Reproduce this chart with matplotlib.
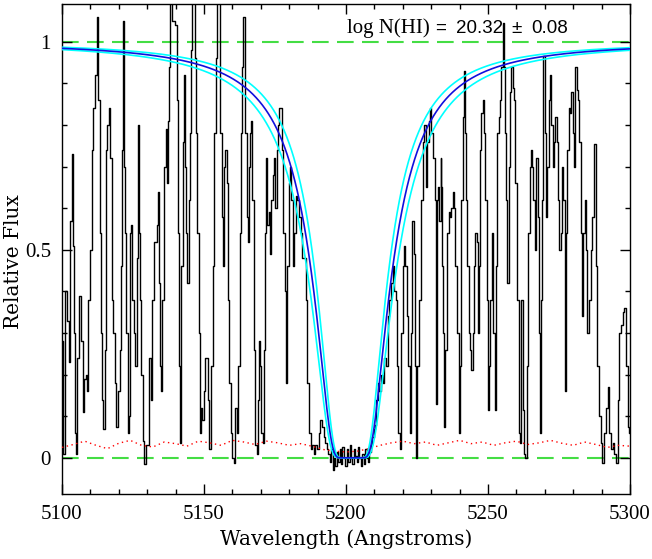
import numpy as np
import matplotlib
matplotlib.use("Agg")
import matplotlib.pyplot as plt
from matplotlib.ticker import MultipleLocator

# ---------------- data ----------------
wave = [
    5100.0, 5100.47, 5101.64, 5102.23, 5102.58, 5103.17, 5103.64, 5104.0, 5104.34, 5104.93,
    5105.16, 5105.75, 5106.34, 5106.93, 5107.51, 5108.1, 5108.69, 5108.92, 5109.62, 5110.1,
    5110.68, 5111.27, 5111.86, 5112.44, 5113.15, 5113.62, 5113.97, 5114.32, 5114.79, 5115.14,
    5115.73, 5116.2, 5116.67, 5117.25, 5117.61, 5117.84, 5118.31, 5118.9, 5119.48, 5119.95,
    5120.66, 5120.89, 5121.13, 5121.6, 5121.95, 5122.3, 5122.77, 5123.36, 5123.71, 5124.18,
    5124.53, 5125.0, 5125.5, 5126.06, 5126.53, 5127.0, 5127.35, 5127.7, 5128.2, 5128.64,
    5129.23, 5130.05, 5130.99, 5131.57, 5132.0,
    5132.98, 5133.57, 5133.92, 5134.39, 5134.74, 5134.98, 5135.68, 5136.27, 5136.62, 5137.09,
    5137.44, 5137.79, 5138.03, 5139.44, 5140.14, 5140.61, 5140.96, 5141.31, 5141.78, 5142.37,
    5142.72, 5143.19, 5143.54, 5143.9, 5144.37, 5144.84, 5145.31, 5145.77, 5146.13, 5146.6,
    5146.83, 5147.42, 5147.89, 5148.36, 5148.71, 5149.18, 5149.65, 5150.23, 5150.7, 5151.17,
    5151.76, 5152.11, 5152.93, 5153.52, 5153.87, 5154.23, 5154.58, 5155.05, 5155.87, 5156.46,
    5156.81, 5157.28, 5157.75, 5158.1, 5158.45, 5159.15, 5159.62, 5160.33, 5160.8, 5161.27,
    5161.74, 5162.32, 5162.91, 5163.26, 5163.62, 5164.09, 5164.67, 5165.26, 5165.85,
    5166.08, 5166.55, 5166.9, 5167.25, 5167.61, 5167.84, 5168.31, 5168.78, 5169.25, 5169.6,
    5169.95, 5170.42, 5170.78, 5171.13, 5171.6, 5171.95, 5172.54, 5173.01, 5173.48, 5173.94,
    5174.41, 5174.88, 5175.35, 5175.82, 5176.29, 5176.76, 5177.23, 5177.7, 5178.17, 5178.64,
    5179.11, 5179.58, 5180.05, 5180.52, 5180.99, 5181.46, 5181.93, 5182.51, 5183.1, 5183.69,
    5184.27, 5184.86, 5185.45, 5186.03, 5186.62, 5187.21, 5187.79, 5188.38, 5188.97, 5189.55,
    5190.14, 5190.73, 5191.31, 5191.9, 5192.49, 5193.07,
    5193.5, 5194.0, 5194.5, 5195.0, 5195.5, 5196.0, 5196.5, 5197.0, 5197.5, 5198.0,
    5198.5, 5199.0, 5199.5, 5200.0, 5200.5, 5201.0, 5201.5, 5202.0, 5202.5, 5203.0,
    5203.5, 5204.0, 5204.5, 5205.0, 5205.5, 5206.0, 5206.5, 5207.0, 5207.5, 5208.0,
    5208.5, 5209.0, 5209.5, 5210.0,
    5210.33, 5210.92, 5211.5, 5212.09, 5212.68, 5213.26, 5213.85, 5214.44, 5215.02, 5215.61,
    5216.2, 5216.78, 5217.37, 5217.72, 5218.08, 5218.55, 5219.13, 5219.72, 5220.31, 5220.66,
    5221.13, 5221.6, 5222.07, 5222.65, 5223.24, 5223.59, 5223.95, 5224.41, 5224.88, 5225.35,
    5226.17, 5226.76, 5227.35, 5227.93, 5228.4, 5228.87, 5229.34, 5229.81, 5230.28, 5230.87,
    5231.46, 5231.7, 5231.85, 5232.0,
    5232.28, 5232.63, 5233.1, 5233.45, 5233.8, 5234.04, 5234.27, 5234.62, 5235.21, 5235.8,
    5236.39, 5236.97, 5237.32, 5237.79, 5238.15, 5238.73, 5239.32, 5239.91, 5240.38, 5240.85,
    5241.31, 5241.67, 5242.02, 5242.49, 5242.96, 5243.43, 5243.9, 5244.37, 5244.84, 5245.31,
    5245.77, 5246.24, 5246.71, 5247.07, 5247.42, 5247.89, 5248.36, 5248.83, 5249.3, 5249.77,
    5250.12, 5250.47, 5251.06, 5251.64, 5252.23, 5252.58, 5253.05, 5253.52, 5253.99, 5254.46,
    5254.93, 5255.4, 5255.75, 5256.1, 5256.57, 5257.04, 5257.51, 5257.98, 5258.45, 5258.92,
    5259.39, 5259.86, 5260.45, 5261.03, 5261.62, 5261.97, 5262.44, 5262.91, 5263.38, 5263.97,
    5264.55, 5265.02,
    5265.38, 5265.73, 5266.2, 5266.67, 5267.14, 5267.72, 5268.08, 5268.43, 5268.9, 5269.25,
    5269.72, 5270.19, 5270.66, 5271.13, 5271.6, 5272.07, 5272.54, 5273.01, 5273.48, 5273.94,
    5274.41, 5274.88, 5275.35, 5275.82, 5276.29, 5276.76, 5277.23, 5277.7, 5278.17, 5278.64,
    5279.11, 5279.58, 5280.05, 5280.52, 5280.99, 5281.46, 5281.93, 5282.4, 5282.87, 5283.34,
    5283.8, 5284.27, 5284.74, 5285.21, 5285.92, 5286.5, 5287.09, 5287.68, 5288.26, 5288.85,
    5289.44, 5290.02, 5290.61, 5291.2, 5291.79, 5292.37, 5292.96, 5293.55, 5294.13, 5294.72,
    5295.31, 5295.9, 5296.48, 5297.07, 5297.66, 5298.24, 5298.83, 5299.42, 5300.0,
]
flux = [
    0.28, 0.01, 0.40, 0.33, 0.23, 0.57, 0.73, 0.51, 0.30, 0.06,
    0.01, 0.24, 0.39, 0.28, 0.11, 0.19, 0.20, 0.16, 0.38, 0.50,
    0.74, 0.84, 0.92, 1.06, 0.86, 0.54, 0.30, 0.14, 0.07, 0.26,
    0.74, 0.80, 0.84, 0.72, 0.54, 0.38, 0.30, 0.18, 0.075, 0.16,
    0.26, 0.46, 0.74, 1.05, 0.70, 0.54, 0.30, 0.06, 0.10, 0.54,
    0.56, 0.38, 0.30, 0.22, 0.48, 0.80, 0.54, 0.38, 0.20, 0.04,
    -0.015, 0.03, 0.24, 0.14, 0.38,
    0.52, 0.56, 0.64, 0.42, 0.22, 0.16, 0.38, 0.70, 0.79, 0.66,
    0.81, 0.94, 1.12, 1.05, 1.04, 0.86, 0.54, 0.22, 0.035, 0.46,
    0.76, 0.92, 0.70, 0.54, 0.42, 0.62, 0.78, 0.98, 1.12, 1.12,
    0.96, 0.78, 0.54, 0.30, 0.06, 0.12, 0.09, 0.16, 0.24, 0.24,
    0.14, 0.02, 0.22, 0.46, 0.78, 0.96, 1.12, 1.12, 0.78, 0.58,
    0.46, 0.70, 0.74, 0.66, 0.38, 0.18, 0.06, 0.0, -0.013, 0.12,
    0.06, 0.22, 0.54, 0.78, 0.94, 1.06, 0.78, 0.58, 0.52,
    0.70, 0.78, 0.81, 0.62, 0.46, 0.26, 0.03, 0.01, 0.14, 0.28,
    0.22, 0.06, 0.035, 0.26, 0.54, 0.72, 0.56, 0.59, 0.49, 0.62,
    0.68, 0.72, 0.60, 0.74, 0.80, 0.84, 0.84, 0.74, 0.54, 0.40,
    0.18, 0.46, 0.66, 0.70, 0.62, 0.46, 0.54, 0.63, 0.62, 0.58,
    0.54, 0.48, 0.48, 0.38, 0.18, 0.06, 0.02, 0.03, 0.01, 0.03,
    0.02, 0.06, 0.09, 0.075, 0.05, 0.035,
    0.02, 0.01, -0.01, 0.02, -0.03, 0.0, -0.02, 0.015, -0.01, 0.02,
    -0.015, 0.025, 0.0, -0.02, 0.02, -0.01, 0.03, 0.0, -0.015, 0.02,
    0.005, -0.01, 0.025, 0.0, -0.02, 0.01, -0.015, 0.02, 0.0, -0.01,
    0.015, 0.03, 0.05, 0.07,
    0.08, 0.14, 0.18, 0.16, 0.20, 0.18, 0.24, 0.22, 0.34, 0.38,
    0.42, 0.46, 0.40, 0.38, 0.22, 0.06, 0.02, 0.30, 0.46, 0.51,
    0.46, 0.34, 0.22, 0.06, 0.30, 0.57, 0.49, 0.22, 0.0, 0.22,
    0.38, 0.62, 0.76, 0.80, 0.65, 0.76, 0.81, 0.84, 0.78, 0.72,
    0.62, 0.30, 0.13, 0.30,
    0.62, 0.65, 0.57, 0.72, 0.65, 0.46, 0.30, 0.075, 0.26, 0.54,
    0.59, 0.58, 0.60, 0.64, 0.60, 0.46, 0.30, 0.06, 0.22, 0.62,
    0.82, 0.93, 0.78, 0.62, 0.46, 0.30, 0.26, 0.21, 0.30, 0.46,
    0.54, 0.52, 0.30, 0.46, 0.74, 0.83, 0.86, 0.78, 0.62, 0.38,
    0.115, 0.22, 0.38, 0.54, 0.30, 0.115, 0.46, 0.78, 0.82, 0.86,
    0.94, 1.045, 0.94, 0.78, 0.62, 0.42, 0.70, 0.88, 0.94, 0.89,
    0.86, 0.66, 0.38, 0.06, 0.035, 0.38, 0.115, 0.01, 0.0, 0.22,
    0.54, 0.70,
    0.74, 0.70, 0.62, 0.50, 0.72, 0.58, 0.30, 0.06, 0.38, 0.62,
    0.965, 0.78, 0.58, 0.70, 0.86, 0.92, 0.80, 0.70, 0.76, 0.82,
    0.76, 0.62, 0.50, 0.54, 0.70, 0.62, 0.16, 0.54, 0.74, 0.84,
    0.83, 0.88, 0.78, 0.70, 0.94, 0.885, 0.86, 0.76, 0.54, 0.34,
    0.54, 0.62, 0.50, 0.30, 0.38, 0.50, 0.58, 0.755, 0.46, 0.22,
    0.10, 0.035, -0.013, 0.06, 0.12, 0.17, 0.06, 0.02, 0.035, 0.01,
    -0.013, 0.14, 0.30, 0.32, 0.35, 0.36, 0.22, 0.075, 0.06,
]

err_wave = list(range(5100, 5301, 4))
err = [
    0.025, 0.032, 0.040, 0.030, 0.022, 0.035, 0.042, 0.030, 0.026, 0.038,
    0.034, 0.028, 0.040, 0.036, 0.030, 0.042, 0.038, 0.032, 0.040, 0.036,
    0.030, 0.034, 0.028, 0.020, 0.016, 0.014, 0.016, 0.022, 0.030, 0.036,
    0.040, 0.034, 0.038, 0.030, 0.036, 0.042, 0.034, 0.038, 0.030, 0.036,
    0.040, 0.032, 0.036, 0.042, 0.035, 0.030, 0.038, 0.032, 0.025, 0.030,
    0.028,
]

# DLA fit parameters (from the label)
logN = 20.32
logN_err = 0.08
lam_center = 5202.0        # observed Ly-alpha centre
label_main = "log N(HI)"
label_parts = ["=", "20.32", "\u00b1", "0.08"]

# ---------------- model: Lorentzian-damped Ly-alpha ----------------
lam0 = 1215.67
c_A = 2.998e18
f_osc = 0.4164
gamma = 6.265e8
zp1 = lam_center / lam0


def dla_profile(lam, logn):
    dl_rest = (lam - lam_center) / zp1
    dnu = c_A * dl_rest / lam0 ** 2
    sig = 0.02654 * f_osc * (gamma / (4 * np.pi ** 2)) / (dnu ** 2 + (gamma / (4 * np.pi)) ** 2)
    return np.exp(-(10 ** logn) * sig)


lam_model = np.linspace(5100, 5300, 2001)

# ---------------- figure ----------------
fig = plt.figure(figsize=(6.52, 5.59), dpi=100)
ax = fig.add_axes([62 / 652, (559 - 494) / 559, 568 / 652, 490 / 559])

green = "#44dd44"
ax.axhline(1.0, color=green, lw=1.5, dashes=(8, 4), zorder=1)
ax.axhline(0.0, color=green, lw=1.5, dashes=(8, 4), zorder=1)

ax.plot(wave, flux, drawstyle="steps-mid", color="black", lw=1.0, zorder=2)
ax.plot(err_wave, err, color="red", lw=1.0, ls=(0, (1, 2.5)), zorder=3)

ax.plot(lam_model, dla_profile(lam_model, logN + logN_err), color="#00ffff", lw=1.2, zorder=4)
ax.plot(lam_model, dla_profile(lam_model, logN - logN_err), color="#00ffff", lw=1.2, zorder=4)
ax.plot(lam_model, dla_profile(lam_model, logN), color="#1010dd", lw=1.2, zorder=5)

ax.set_xlim(5100, 5300)
ax.set_ylim(-0.087, 1.091)

ax.xaxis.set_major_locator(MultipleLocator(50))
ax.xaxis.set_minor_locator(MultipleLocator(10))
ax.yaxis.set_major_locator(MultipleLocator(0.5))
ax.yaxis.set_minor_locator(MultipleLocator(0.1))
ax.set_yticks([0, 0.5, 1])
ax.set_yticklabels(["0", "0.5", "1"])

ax.tick_params(which="both", direction="in", top=True, right=True, colors="black")
ax.tick_params(which="major", length=7, width=1.0, pad=8)
ax.tick_params(which="minor", length=3.8, width=1.0)
for lab in ax.get_xticklabels() + ax.get_yticklabels():
    lab.set_fontfamily("Liberation Serif")
    lab.set_fontsize(15)
for sp in ax.spines.values():
    sp.set_linewidth(1.0)

ax.set_xlabel("Wavelength (Angstroms)", fontfamily="DejaVu Serif", fontsize=14.5)
ax.set_ylabel("Relative Flux", fontfamily="DejaVu Serif", fontsize=14.5)
ax.xaxis.set_label_coords(0.5, -0.072)
ax.yaxis.set_label_coords(-0.068, 0.475)

ax.text(5200.4, 1.022, label_main, fontfamily="Liberation Serif", fontsize=15,
        ha="left", va="baseline", zorder=6)
part_x = [5231.3, 5238.9, 5258.4, 5265.3]
for px, s in zip(part_x, label_parts):
    ax.text(px, 1.022, s, fontfamily="Liberation Sans", fontsize=13.5,
            ha="left", va="baseline", zorder=6)

fig.savefig("out.png", dpi=100)
